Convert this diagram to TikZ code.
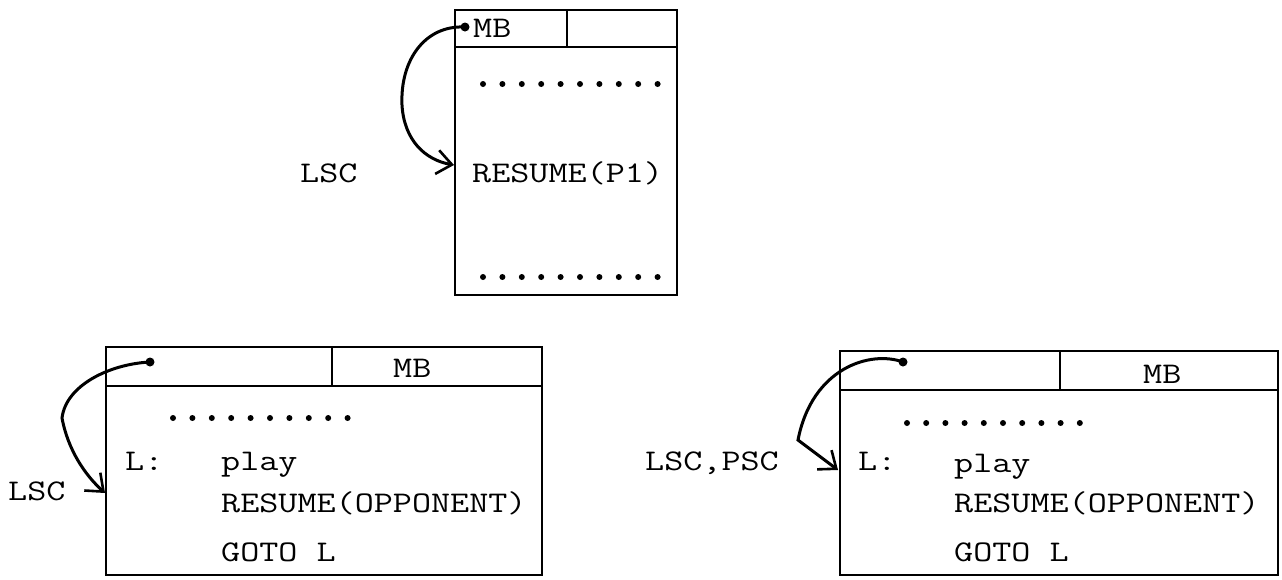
\documentclass[tikz,border=0pt]{standalone}
\usepackage{fontspec}
\newfontfamily\tw{Latin Modern Mono}[FakeStretch=1.235]
\usetikzlibrary{arrows.meta}
\tikzset{
  txt/.style={inner sep=0pt, anchor=base west, font=\tw\fontsize{30}{30}\selectfont},
  boxline/.style={line width=2.8pt, line join=miter},
  link/.style={line width=3pt, -{Straight Barb[length=15pt,width=24pt,line width=2.6pt]}},
}
\begin{document}
\begin{tikzpicture}[x=1pt,y=-1pt]
\useasboundingbox (0,0) rectangle (1282,579);
% ---------- top box ----------
\draw[boxline] (455,10) rectangle (677,295);
\draw[boxline] (455,47) -- (677,47);
\draw[boxline] (567,10) -- (567,47);
\node[txt] (mbT) at (473,37) {MB};
\foreach \i in {0,...,9} \fill (483+\i*19.4,84) circle (3pt);
\foreach \i in {0,...,9} \fill (483+\i*19.4,277) circle (3pt);
\node[txt] (resT) at (472,182) {RESUME(P1)};
\node[txt] (lscT) at (300,182) {LSC};
\coordinate (sT) at (465,27);
\coordinate (tT) at (454,165);
\fill (sT) circle (4.5pt);
\draw[link] (sT) .. controls (425,25) and (400,60) .. (402,105) .. controls (404,140) and (425,160) .. (tT);
% ---------- bottom left box ----------
\draw[boxline] (106,347) rectangle (542,575);
\draw[boxline] (106,386) -- (542,386);
\draw[boxline] (332,347) -- (332,386);
\node[txt] (mbL) at (393,377) {MB};
\foreach \i in {0,...,9} \fill (173+\i*19.4,418) circle (3pt);
\node[txt] (labL) at (125,470) {L:};
\node[txt] (playL) at (221,470) {play};
\node[txt] (resL) at (221,512) {RESUME(OPPONENT)};
\node[txt] (gotoL) at (221,561) {GOTO L};
\node[txt] (lscL) at (8,500) {LSC};
\coordinate (sL) at (150,362);
\coordinate (tL) at (105,493);
\fill (sL) circle (4.5pt);
\draw[link] (sL) .. controls (110,364) and (66,385) .. (62,418) .. controls (68,450) and (85,475) .. (tL);
% ---------- bottom right box ----------
\draw[boxline] (840,351) rectangle (1278,575);
\draw[boxline] (840,390) -- (1278,390);
\draw[boxline] (1060,351) -- (1060,390);
\node[txt] (mbR) at (1143,383) {MB};
\foreach \i in {0,...,9} \fill (907+\i*19.2,423) circle (3pt);
\node[txt] (labR) at (858,470) {L:};
\node[txt] (playR) at (954,472) {play};
\node[txt] (resR) at (954,512) {RESUME(OPPONENT)};
\node[txt] (gotoR) at (954,561) {GOTO L};
\node[txt] (lscR) at (645,470) {LSC,PSC};
\coordinate (sR) at (903,362);
\coordinate (kR) at (798,440);
\coordinate (tR) at (838,470);
\fill (sR) circle (4.5pt);
\draw[link] (sR) .. controls (870,350) and (812,368) .. (kR) -- (tR);
\end{tikzpicture}
\end{document}
